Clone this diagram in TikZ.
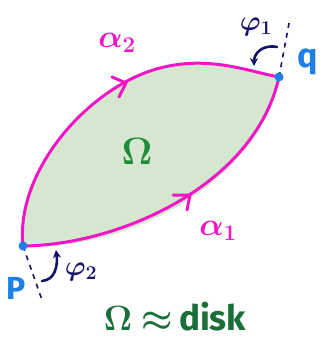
\RequirePackage{fix-cm}
\documentclass[tikz,border=0pt]{standalone}
\usepackage{amsmath,bm}
\usepackage{fontspec}
\setsansfont{Fira Sans}
\usetikzlibrary{arrows.meta}
\definecolor{mag}{RGB}{240,22,200}
\definecolor{fillg}{RGB}{213,232,207}
\definecolor{omg}{RGB}{30,139,58}
\definecolor{dg}{RGB}{26,110,58}
\definecolor{bl}{RGB}{30,127,230}
\definecolor{nv}{RGB}{20,20,102}
\tikzset{
  curve/.style={draw=mag,line width=3pt,line cap=round,line join=round},
  chev/.style={draw=mag,line width=3pt,line cap=round,line join=round},
  tang/.style={draw=nv,line width=1.6pt,dash pattern=on 5pt off 5pt},
  angarr/.style={draw=nv,line width=2.6pt,line cap=round,-{Stealth[length=8pt,width=8pt]}},
  dot/.style={circle,fill=bl,inner sep=0pt,minimum size=9pt},
  lab/.style={inner sep=0pt}
}
\begin{document}
\begin{tikzpicture}[x=1pt,y=-1pt]
\useasboundingbox (0,0) rectangle (321,339);
\coordinate (P) at (23,246);
\coordinate (q) at (279,77);
% fill
\fill[fillg] (P) .. controls (120,247) and (255,185) .. (q)
  .. controls (250,72) and (210,55) .. (160,68)
  .. controls (90,86) and (15,170) .. (P) -- cycle;
\fill[fillg] (P) .. controls (120,252) and (258,188) .. (q) -- (270,110) .. controls (240,170) and (120,240) .. (P);
% curves
\draw[curve] (P) .. controls (120,245) and (255,185) .. (q);
\draw[curve] (P) .. controls (15,170) and (90,86) .. (160,68)
  .. controls (210,55) and (250,72) .. (q);
% chevrons
\coordinate (c2) at (126,83);
\draw[chev] (112,77) -- (c2) -- (119,97);
\coordinate (c1) at (190,195);
\draw[chev] (173,195) -- (c1) -- (187,210);
% tangents
\coordinate (qt) at (290,18);
\coordinate (pt) at (42,300);
\draw[tang] (q) -- (qt);
\draw[tang] (P) -- (pt);
% angle arrows
\coordinate (a1s) at (277,47);
\coordinate (a1e) at (254,66);
\draw[angarr] (a1s) .. controls (262,44) and (254,54) .. (a1e);
\coordinate (a2s) at (42,281);
\coordinate (a2e) at (56,250);
\draw[angarr] (a2s) .. controls (55,280) and (58,266) .. (a2e);
% dots
\node[dot] (Pd) at (P) {};
\node[dot] (qd) at (q) {};
% labels
\node[lab,text=mag] (la2) at (117,43) {\fontsize{32}{32}\selectfont$\bm{\alpha_2}$};
\node[lab,text=mag] (la1) at (218,231) {\fontsize{32}{32}\selectfont$\bm{\alpha_1}$};
\node[lab,text=omg] (lom) at (137,151) {\fontsize{38}{38}\selectfont$\bm{\Omega}$};
\node[lab,text=bl] (lq) at (308,62) {\fontsize{34}{34}\selectfont\sffamily\bfseries q};
\node[lab,text=bl] (lP) at (16,288) {\fontsize{32}{32}\selectfont\sffamily\bfseries P};
\node[lab,text=nv] (lf1) at (256,27) {\fontsize{28}{28}\selectfont$\bm{\varphi_1}$};
\node[lab,text=nv] (lf2) at (81,272) {\fontsize{28}{28}\selectfont$\bm{\varphi_2}$};
\node[lab,text=dg,anchor=base] (lbot) at (175,330) {\fontsize{35}{35}\selectfont$\bm{\Omega\approx}$\,{\sffamily\bfseries disk}};
\end{tikzpicture}
\end{document}
